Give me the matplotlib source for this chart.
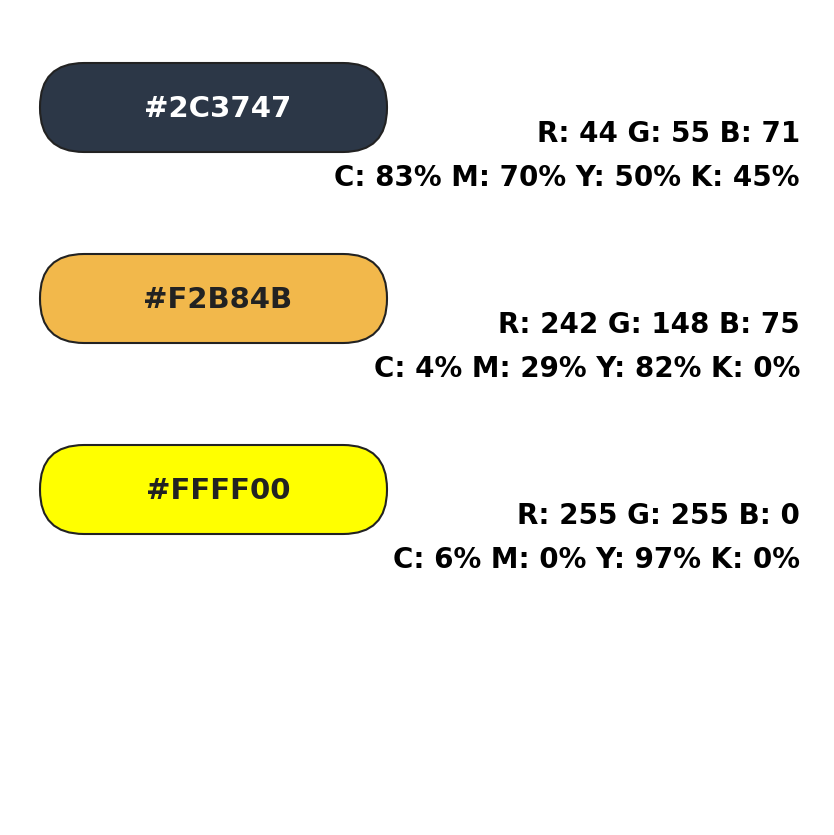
import matplotlib
matplotlib.use("Agg")
import matplotlib.pyplot as plt
from matplotlib.patches import FancyBboxPatch

hex_codes = ["#2C3747", "#F2B84B", "#FFFF00"]
text_colors = ["white", "#222222", "#222222"]
rgb_labels = ["R: 44 G: 55 B: 71", "R: 242 G: 148 B: 75", "R: 255 G: 255 B: 0"]
cmyk_labels = ["C: 83% M: 70% Y: 50% K: 45%", "C: 4% M: 29% Y: 82% K: 0%",
               "C: 6% M: 0% Y: 97% K: 0%"]
pill_tops = [63, 254, 445]

fig = plt.figure(figsize=(8.34, 8.35), dpi=100)
ax = fig.add_axes([0, 0, 1, 1])
ax.set_xlim(0, 834)
ax.set_ylim(835, 0)
ax.axis("off")

for i, code in enumerate(hex_codes):
    top = pill_tops[i]
    box = FancyBboxPatch((40, top), 347, 89,
                         boxstyle="round,pad=0,rounding_size=44",
                         facecolor=code, edgecolor="#222222", linewidth=1.5)
    ax.add_patch(box)
    ax.text(218, top + 46, code, ha="center", va="center", color=text_colors[i],
            fontsize=21, fontweight="bold", family="DejaVu Sans")
    ax.text(800, top + 71, rgb_labels[i], ha="right", va="center", color="black",
            fontsize=20, fontweight="bold", family="DejaVu Sans")
    ax.text(800, top + 115, cmyk_labels[i], ha="right", va="center", color="black",
            fontsize=20, fontweight="bold", family="DejaVu Sans")

fig.savefig("out.png", dpi=100, facecolor="white")
